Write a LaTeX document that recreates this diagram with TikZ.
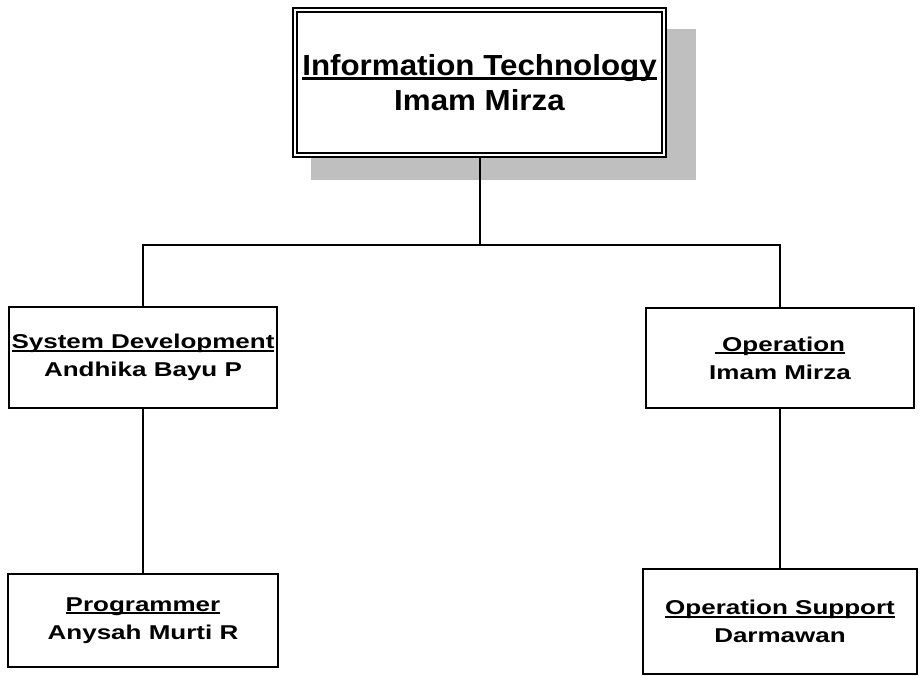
\documentclass[tikz,border=0pt]{standalone}
\usepackage{fontspec}
\usetikzlibrary{shadows}
\newfontfamily\headfont[FakeStretch=1.08]{Liberation Sans}
\newfontfamily\unitfont[FakeStretch=1.3]{Liberation Sans}
\newcommand{\orgul}[1]{\setbox0\hbox{#1}\rlap{\rule[-0.3ex]{\wd0}{0.2ex}}\box0}

\begin{document}
\begin{tikzpicture}[x=1pt,y=-1pt,
	unit/.style={draw, line width=2pt, inner sep=0pt, align=center, font={\unitfont\bfseries\fontsize{20}{28}\selectfont}},
	head/.style={draw, line width=1.8pt, double=white, double distance=2pt, outer sep=2.8pt, inner sep=0pt, fill=white, align=center,
		font={\headfont\bfseries\fontsize{29}{35}\selectfont},
		drop shadow={shadow xshift=23pt, shadow yshift=-21.5pt, shadow scale=1.04, fill=black!25, opacity=1}},
	link/.style={line width=2pt}]
	\useasboundingbox (0,0) rectangle (923,676);
	\node[head, minimum width=369.4pt, minimum height=145.4pt] (it) at (479.5,82.5) {\orgul{Information Technology}\\Imam Mirza};
	\node[unit, minimum width=268pt, minimum height=101pt] (sd) at (143,357.5) {\orgul{System Development}\\Andhika Bayu P};
	\node[unit, minimum width=268pt, minimum height=100pt] (op) at (780,358) {\orgul{\ Operation}\\Imam Mirza};
	\node[unit, minimum width=270pt, minimum height=93pt] (prog) at (143,620.5) {\orgul{Programmer}\\Anysah Murti R};
	\node[unit, minimum width=274pt, minimum height=105pt] (ops) at (780,621.5) {\orgul{Operation Support}\\Darmawan};
	\coordinate (bus) at (479.5,245);
	\draw[link] (it) -- (bus) -| (sd);
	\draw[link] (bus) -| (op);
	\draw[link] (sd) -- (prog);
	\draw[link] (op) -- (ops);
\end{tikzpicture}
\end{document}
